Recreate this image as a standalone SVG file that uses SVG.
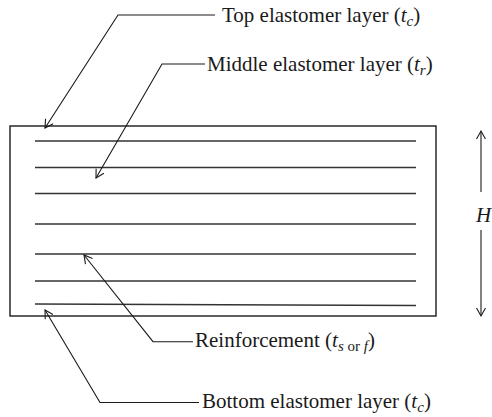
<svg xmlns="http://www.w3.org/2000/svg" width="492" height="417" viewBox="0 0 492 417">
<style>
.lbl{font-family:"Liberation Serif","Times New Roman",serif;font-size:21px;fill:#1a1a1a}
.it{font-style:italic}
.sub{font-size:15px}
.lead{fill:none;stroke:#1a1a1a;stroke-width:1.1}
.layer{stroke:#333;stroke-width:1.6}
</style>
<defs>
<marker id="ah" markerUnits="userSpaceOnUse" markerWidth="20" markerHeight="20" refX="0" refY="0" orient="auto" viewBox="-10 -10 20 20" overflow="visible">
<path d="M-8,-4.5 L0,0 L-8,4.5" fill="none" stroke="#1a1a1a" stroke-width="1.1"/>
</marker>
</defs>
<g id="bearing">
<rect x="10" y="126" width="426" height="190" fill="#fff" stroke="#1a1a1a" stroke-width="1.4"/>
<line class="layer" x1="35" y1="141" x2="416" y2="141"/>
<line class="layer" x1="35" y1="167.5" x2="416" y2="167.5"/>
<line class="layer" x1="35" y1="193.5" x2="416" y2="193.5"/>
<line class="layer" x1="35" y1="224" x2="416" y2="224"/>
<line class="layer" x1="35" y1="254" x2="416" y2="254"/>
<line class="layer" x1="35" y1="281" x2="416" y2="281"/>
<line class="layer" x1="35" y1="304" x2="416" y2="305.5"/>
</g>
<g id="connectors">
<path class="lead" d="M215,15 L118,15 L45,128" marker-end="url(#ah)"/>
<path class="lead" d="M205,64 L162,64 L96,178" marker-end="url(#ah)"/>
<path class="lead" d="M193,341.7 L153,341.7 L84,255" marker-end="url(#ah)"/>
<path class="lead" d="M199,402.5 L100,402.5 L45,310" marker-end="url(#ah)"/>
<path class="lead" d="M481,192 L481,131" marker-end="url(#ah)"/>
<path class="lead" d="M481,230 L481,316" marker-end="url(#ah)"/>
</g>
<g id="label-top"><text class="lbl" x="222" y="22">Top elastomer layer (<tspan class="it">t</tspan><tspan class="it sub" dy="4">c</tspan><tspan dy="-4">)</tspan></text></g>
<g id="label-middle"><text class="lbl" x="207" y="71">Middle elastomer layer (<tspan class="it">t</tspan><tspan class="it sub" dy="4">r</tspan><tspan dy="-4">)</tspan></text></g>
<g id="label-reinf"><text class="lbl" x="195" y="346.5">Reinforcement (<tspan class="it">t</tspan><tspan class="it sub" dy="4">s</tspan><tspan class="sub"> or </tspan><tspan class="it sub">f</tspan><tspan dy="-4">)</tspan></text></g>
<g id="label-bottom"><text class="lbl" x="202" y="408">Bottom elastomer layer (<tspan class="it">t</tspan><tspan class="it sub" dy="4">c</tspan><tspan dy="-4">)</tspan></text></g>
<g id="label-H"><text class="lbl it" x="476" y="222">H</text></g>
</svg>
